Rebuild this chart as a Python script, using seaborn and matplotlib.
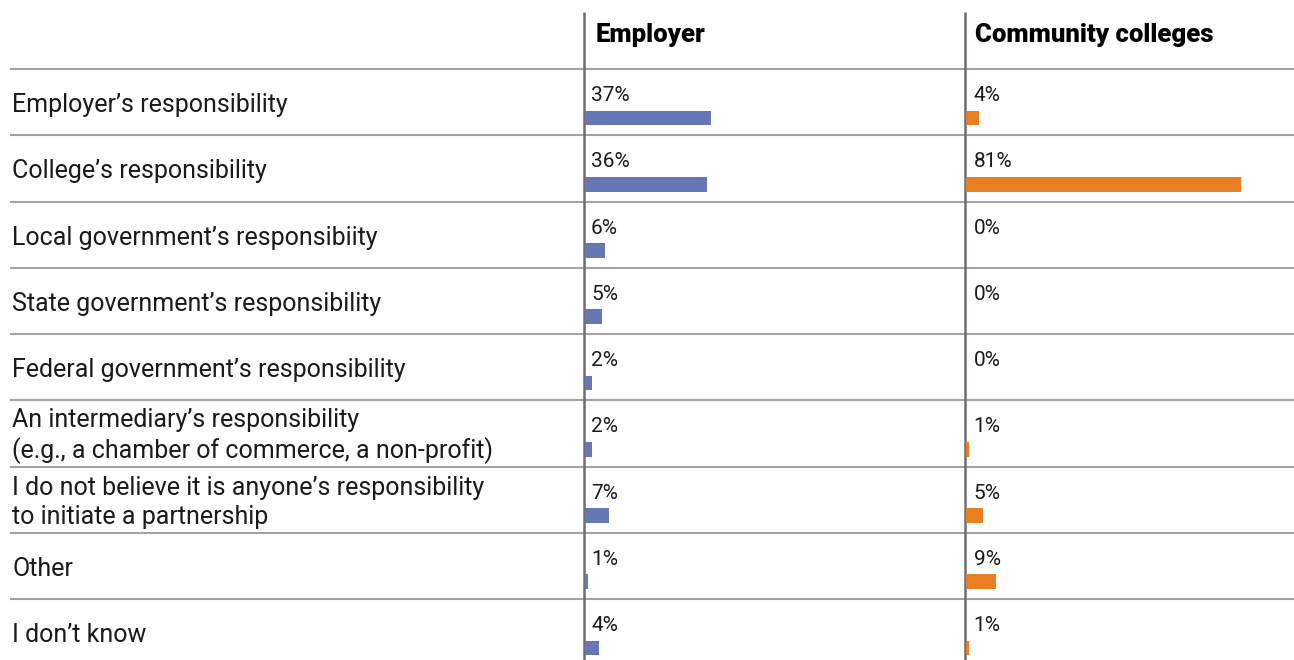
import matplotlib
matplotlib.use("Agg")
import matplotlib.pyplot as plt
import seaborn as sns
import pandas as pd

# Survey responses: who should initiate an employer / college partnership
responses = [
    "Employer’s responsibility",
    "College’s responsibility",
    "Local government’s responsibiity",
    "State government’s responsibility",
    "Federal government’s responsibility",
    "An intermediary’s responsibility\n(e.g., a chamber of commerce, a non-profit)",
    "I do not believe it is anyone’s responsibility\nto initiate a partnership",
    "Other",
    "I don’t know",
]
employer_pct = [37, 36, 6, 5, 2, 2, 7, 1, 4]
college_pct = [4, 81, 0, 0, 0, 1, 5, 9, 1]
column_titles = ["Employer", "Community colleges"]

BLUE = "#6677b5"
ORANGE = "#e87f22"
TEXT = "#1a1a1a"
RULE = "#a3a3a3"
DIVIDER = "#6d6d75"

sns.set_theme(style="white")
plt.rcParams["font.family"] = ["Roboto", "DejaVu Sans"]

df = pd.DataFrame({"response": responses,
                   "employer": employer_pct,
                   "college": college_pct})

W, H = 1294, 660
TOP, ROW = 69, 66.25
n = len(responses)

fig = plt.figure(figsize=(W / 100, H / 100), dpi=100)

# background layer in pixel units for rules and row labels
bg = fig.add_axes([0, 0, 1, 1])
bg.set_xlim(0, W)
bg.set_ylim(H, 0)
bg.axis("off")

for i in range(n):
    y = TOP + i * ROW
    bg.plot([10, W], [y, y], color=RULE, lw=1.5, solid_capstyle="butt", zorder=1)
for x in (584, 965):
    bg.plot([x, x], [12, H], color=DIVIDER, lw=1.8, solid_capstyle="butt", zorder=2)

for i, label in enumerate(responses):
    bg.text(12, TOP + i * ROW + 36, label, ha="left", va="center",
            fontsize=18, color=TEXT, linespacing=1.25)

bg.text(596, 35, column_titles[0], ha="left", va="center", fontsize=18.5,
        fontweight="black", color="black")
bg.text(975, 35, column_titles[1], ha="left", va="center", fontsize=18.5,
        fontweight="black", color="black")


def bar_axes(x0):
    rect = [x0 / W, 1 - (TOP + n * ROW) / H, 340 / W, n * ROW / H]
    ax = fig.add_axes(rect)
    ax.patch.set_alpha(0)
    return ax


panels = [(585, "employer", BLUE, 1.8), (965.5, "college", ORANGE, 2.4)]
for x0, col, color, pad in panels:
    ax = bar_axes(x0)
    sns.barplot(data=df, x=col, y="response", orient="y", color=color,
                saturation=1, width=0.22, linewidth=0, ax=ax)
    ax.set_xlim(0, 100)
    ax.set_ylim(n - 0.74, -0.74)
    ax.axis("off")
    for k, v in enumerate(df[col]):
        ax.text(pad, k - 0.34, f"{v}%", ha="left", va="center",
                fontsize=15, color=TEXT)

fig.savefig("out.png", dpi=100)
